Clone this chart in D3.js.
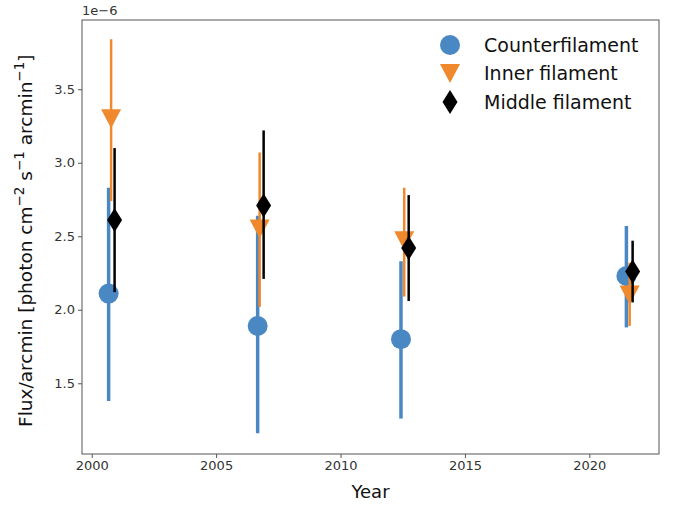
<!DOCTYPE html>
<html>
<head>
<meta charset="utf-8">
<script src="https://cdn.jsdelivr.net/npm/d3@7"></script>
<style>
  html, body { margin: 0; padding: 0; background: #fff; }
  svg { display: block; font-family: "DejaVu Sans", sans-serif; }
</style>
</head>
<body>
<svg id="chart" width="676" height="506"></svg>
<script>
// Flux values are in units of 1e-6 photon cm^-2 s^-1 arcmin^-1 per arcmin
const seriesNames = ["Counterfilament", "Inner filament", "Middle filament"];

const counterYear = [2000.68, 2006.67, 2012.43, 2021.49];
const counterFlux = [2.11, 1.89, 1.80, 2.23];
const counterLow  = [1.38, 1.16, 1.26, 1.88];
const counterHigh = [2.83, 2.64, 2.33, 2.57];

const innerYear = [2000.78, 2006.75, 2012.56, 2021.62];
const innerFlux = [3.30, 2.55, 2.47, 2.10];
const innerLow  = [2.74, 2.02, 2.09, 1.89];
const innerHigh = [3.84, 3.07, 2.83, 2.32];

const middleYear = [2000.92, 2006.91, 2012.74, 2021.74];
const middleFlux = [2.61, 2.71, 2.42, 2.26];
const middleLow  = [2.12, 2.21, 2.06, 2.05];
const middleHigh = [3.10, 3.22, 2.78, 2.47];

const xTicks = [2000, 2005, 2010, 2015, 2020];
const yTicks = [1.5, 2.0, 2.5, 3.0, 3.5];

const svg = d3.select("#chart");
const plot = { left: 82, right: 659, top: 20, bottom: 454 };

const x = d3.scaleLinear().domain([1999.61, 2022.8]).range([plot.left, plot.right]);
const y = d3.scaleLinear().domain([1.019, 3.971]).range([plot.bottom, plot.top]);

const colors = { counter: "#4a88c4", inner: "#f0882d", middle: "#000000" };

// axes
const xAxis = d3.axisBottom(x).tickValues(xTicks).tickFormat(d3.format("d")).tickSize(4).tickPadding(3);
const yAxis = d3.axisLeft(y).tickValues(yTicks).tickFormat(d3.format(".1f")).tickSize(4).tickPadding(3);

const gx = svg.append("g").attr("transform", `translate(0,${plot.bottom})`).call(xAxis);
const gy = svg.append("g").attr("transform", `translate(${plot.left},0)`).call(yAxis);
[gx, gy].forEach(g => {
  g.attr("font-size", null).attr("font-family", null);
  g.select(".domain").remove();
  g.selectAll(".tick line").attr("stroke", "#555");
  g.selectAll(".tick text").attr("fill", "#333").style("font-size", "13px");
});

// frame
svg.append("rect")
  .attr("x", plot.left).attr("y", plot.top)
  .attr("width", plot.right - plot.left).attr("height", plot.bottom - plot.top)
  .attr("fill", "none").attr("stroke", "#555").attr("stroke-width", 1);

// offset text
svg.append("text").attr("x", plot.left).attr("y", 15)
  .attr("fill", "#333").style("font-size", "13px").text("1e\u22126");

// axis labels
svg.append("text").attr("x", (plot.left + plot.right) / 2).attr("y", 498)
  .attr("text-anchor", "middle").attr("fill", "#111").style("font-size", "18px").text("Year");

const yl = svg.append("text")
  .attr("transform", `translate(32,427) rotate(-90)`)
  .attr("text-anchor", "start").attr("fill", "#111").style("font-size", "18.5px");
yl.append("tspan").text("Flux/arcmin [photon cm");
yl.append("tspan").attr("dy", -8).style("font-size", "13.5px").text("\u22122");
yl.append("tspan").attr("dy", 8).text(" s");
yl.append("tspan").attr("dy", -8).style("font-size", "13.5px").text("\u22121");
yl.append("tspan").attr("dy", 8).text(" arcmin");
yl.append("tspan").attr("dy", -8).style("font-size", "13.5px").text("\u22121");
yl.append("tspan").attr("dy", 8).text("]");

// marker shapes
const circlePath = d3.symbol().type(d3.symbolCircle).size(Math.PI * 10 * 10)();
function trianglePath(w, h) {
  return `M${-w / 2},${-h / 2}L${w / 2},${-h / 2}L0,${h / 2}Z`;
}
function diamondPath(w, h) {
  return `M0,${-h / 2}L${w / 2},0L0,${h / 2}L${-w / 2},0Z`;
}
const shapes = {
  counter: circlePath,
  inner: trianglePath(20, 19),
  middle: diamondPath(15, 24)
};

const series = [
  { key: "counter", xs: counterYear, v: counterFlux, lo: counterLow, hi: counterHigh, lw: 3.5 },
  { key: "inner",   xs: innerYear,   v: innerFlux,   lo: innerLow,   hi: innerHigh,   lw: 2.5 },
  { key: "middle",  xs: middleYear,  v: middleFlux,  lo: middleLow,  hi: middleHigh,  lw: 2.5 }
];

series.forEach(s => {
  const g = svg.append("g");
  const rows = s.xs.map((yr, i) => ({ yr, v: s.v[i], lo: s.lo[i], hi: s.hi[i] }));
  g.selectAll("line").data(rows).join("line")
    .attr("x1", d => x(d.yr)).attr("x2", d => x(d.yr))
    .attr("y1", d => y(d.lo)).attr("y2", d => y(d.hi))
    .attr("stroke", colors[s.key]).attr("stroke-width", s.lw);
  g.selectAll("path").data(rows).join("path")
    .attr("d", shapes[s.key])
    .attr("transform", d => `translate(${x(d.yr)},${y(d.v)})`)
    .attr("fill", colors[s.key]);
});

// legend
const legend = svg.append("g");
const legendKeys = ["counter", "inner", "middle"];
legendKeys.forEach((k, i) => {
  const cy = 45 + i * 28.5;
  legend.append("path").attr("d", shapes[k]).attr("transform", `translate(450,${cy})`).attr("fill", colors[k]);
  legend.append("text").attr("x", 484).attr("y", cy).attr("dy", "0.36em")
    .attr("fill", "#111").style("font-size", "19px").text(seriesNames[i]);
});
</script>
</body>
</html>
